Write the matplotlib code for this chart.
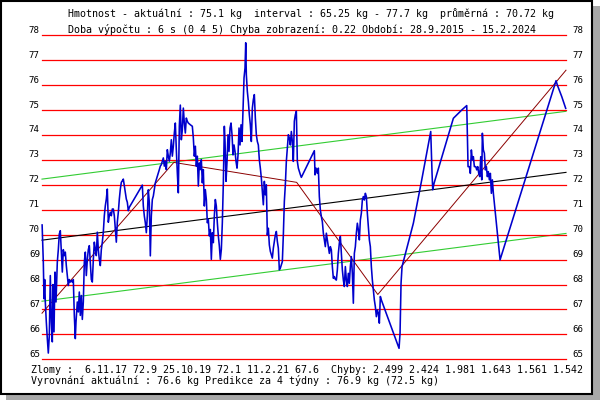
import matplotlib
matplotlib.use("Agg")
import matplotlib.pyplot as plt
from matplotlib.patches import Rectangle

# weight series, x in decimal years (28.9.2015 - 15.2.2024)
dates = [
    2015.742, 2015.761, 2015.772, 2015.783, 2015.793, 2015.809, 2015.825, 2015.841,
    2015.857, 2015.873, 2015.889, 2015.905, 2015.916, 2015.932, 2015.948, 2015.964,
    2015.985, 2016.001, 2016.017, 2016.033, 2016.049, 2016.065, 2016.081, 2016.097,
    2016.113, 2016.129, 2016.145, 2016.161, 2016.177, 2016.193, 2016.209, 2016.225,
    2016.241, 2016.257, 2016.273, 2016.284, 2016.305, 2016.321, 2016.337, 2016.353,
    2016.369, 2016.385, 2016.401, 2016.417, 2016.433, 2016.449, 2016.465, 2016.481,
    2016.497, 2016.513, 2016.529, 2016.545, 2016.561, 2016.577, 2016.593, 2016.609,
    2016.625, 2016.641, 2016.657, 2016.673, 2016.689, 2016.705, 2016.721, 2016.737,
    2016.753, 2016.769, 2016.785, 2016.801, 2016.817, 2016.833, 2016.849, 2016.865,
    2016.881, 2016.897, 2016.913, 2016.929, 2016.945, 2016.961, 2016.977, 2016.993,
    2017.009, 2017.025, 2017.041, 2017.057, 2017.073, 2017.089, 2017.105, 2017.121,
    2017.137,
    2017.345, 2017.361, 2017.377, 2017.393, 2017.409, 2017.425, 2017.441, 2017.457,
    2017.473, 2017.489, 2017.505, 2017.521, 2017.537, 2017.553, 2017.569, 2017.585,
    2017.601, 2017.617, 2017.633, 2017.649, 2017.665, 2017.681, 2017.697, 2017.713,
    2017.729, 2017.745, 2017.761, 2017.777, 2017.793, 2017.809, 2017.825, 2017.841,
    2017.857, 2017.873, 2017.889, 2017.905, 2017.921, 2017.937, 2017.953, 2017.969,
    2017.985, 2018.001, 2018.017, 2018.033, 2018.049, 2018.065, 2018.081, 2018.113,
    2018.145, 2018.161, 2018.177, 2018.193, 2018.209, 2018.225, 2018.241, 2018.257,
    2018.273, 2018.289, 2018.305, 2018.321, 2018.337, 2018.353, 2018.369, 2018.385,
    2018.401, 2018.417, 2018.433, 2018.449, 2018.465, 2018.481, 2018.497, 2018.513,
    2018.529, 2018.545, 2018.561, 2018.577, 2018.593, 2018.609, 2018.625, 2018.641,
    2018.657,
    2018.668, 2018.684, 2018.700, 2018.716, 2018.732, 2018.748, 2018.764, 2018.780,
    2018.796, 2018.812, 2018.828, 2018.844, 2018.860, 2018.876, 2018.892, 2018.908,
    2018.924, 2018.940, 2018.956, 2018.972, 2018.988, 2018.999, 2019.009, 2019.025,
    2019.041, 2019.057, 2019.073, 2019.089, 2019.105, 2019.121, 2019.137, 2019.153,
    2019.169, 2019.185, 2019.201, 2019.217, 2019.233, 2019.249, 2019.265, 2019.281,
    2019.297, 2019.313, 2019.329, 2019.345, 2019.361, 2019.377, 2019.393, 2019.409,
    2019.425, 2019.441, 2019.457, 2019.473, 2019.489, 2019.505, 2019.521, 2019.537,
    2019.553, 2019.569, 2019.585, 2019.601, 2019.617, 2019.633, 2019.649, 2019.665,
    2019.681, 2019.697, 2019.713, 2019.729, 2019.745, 2019.761, 2019.777, 2019.793,
    2019.809, 2019.825, 2019.841, 2019.857, 2019.873, 2019.889, 2020.097,
    2020.108, 2020.124, 2020.145, 2020.161, 2020.177, 2020.193, 2020.209, 2020.225,
    2020.241, 2020.257, 2020.273, 2020.289, 2020.305, 2020.321, 2020.337, 2020.353,
    2020.369, 2020.385, 2020.401, 2020.417, 2020.433, 2020.449, 2020.465, 2020.481,
    2020.497, 2020.513, 2020.529, 2020.545, 2020.561, 2020.577, 2020.593, 2020.609,
    2020.625, 2020.641, 2020.657, 2020.673, 2020.689, 2020.705, 2020.721, 2020.737,
    2020.753, 2020.769, 2020.785, 2020.801, 2020.817, 2020.833, 2020.849, 2020.865,
    2020.881, 2020.897, 2020.913, 2020.929, 2020.945, 2020.961, 2020.977, 2020.993,
    2021.009, 2021.025, 2021.041, 2021.057, 2021.073, 2021.089, 2021.105, 2021.121,
    2021.137, 2021.153, 2021.169, 2021.452, 2021.468, 2021.484, 2021.500, 2021.681,
    2021.815, 2021.959, 2021.980, 2021.991, 2022.012, 2022.321, 2022.374, 2022.454,
    2022.535, 2022.545, 2022.556, 2022.577, 2022.593, 2022.609, 2022.625, 2022.641,
    2022.657, 2022.679, 2022.695, 2022.711, 2022.727, 2022.743, 2022.759, 2022.775,
    2022.785, 2022.801, 2022.817, 2022.833, 2022.849, 2022.865, 2022.881, 2022.897,
    2022.913, 2022.929, 2022.945, 2022.961, 2022.977, 2022.993, 2023.015, 2023.041,
    2023.068, 2023.964, 2023.985, 2024.055, 2024.118,
]
weight = [
    70.39, 68.90, 67.43, 68.20, 67.30, 66.50, 65.83, 65.25,
    65.96, 68.36, 66.50, 65.70, 68.00, 66.10, 68.50, 67.30,
    68.90, 69.40, 70.03, 70.16, 69.30, 68.50, 69.40, 69.16,
    69.30, 68.76, 68.36, 67.96, 68.20, 68.10, 68.16, 68.10,
    68.20, 66.76, 65.83, 66.50, 67.30, 66.90, 67.70, 66.76,
    67.56, 66.60, 67.30, 68.90, 69.30, 68.36, 69.00, 69.40,
    69.56, 68.90, 68.20, 68.10, 69.00, 69.70, 69.40, 69.16,
    70.10, 69.40, 69.00, 68.76, 69.40, 69.70, 70.10, 70.76,
    71.16, 71.43, 71.83, 70.50, 70.76, 70.90, 70.76, 71.03,
    71.03, 70.76, 70.23, 69.70, 70.50, 70.90, 71.43, 71.83,
    72.10, 72.16, 72.23, 71.96, 71.70, 71.43, 71.30, 70.96,
    71.10,
    71.99, 71.15, 70.75, 70.48, 70.08, 70.75, 71.80, 71.28,
    69.15, 70.75, 71.41, 71.55, 71.81, 72.08, 72.21, 72.35,
    72.48, 72.61, 72.75, 72.81, 72.95, 73.08, 72.75, 72.95,
    72.61, 73.41, 73.15, 72.95, 73.28, 73.81, 73.15, 73.55,
    74.08, 74.48, 73.41, 72.48, 71.68, 74.35, 75.20, 73.81,
    74.21, 75.08, 74.48, 74.08, 74.68, 74.55, 74.48, 74.41,
    74.35, 73.88, 73.15, 73.55, 72.75, 73.15, 71.95, 72.88,
    72.61, 73.01, 72.08, 72.61, 71.15, 71.81, 71.41, 70.48,
    70.61, 69.95, 70.21, 69.01, 70.08, 69.68, 70.75, 71.41,
    71.15, 70.48, 69.95, 69.55, 69.01, 69.41, 70.48, 72.08,
    74.35,
    73.74, 72.14, 72.94, 74.01, 73.34, 74.28, 74.48, 74.01,
    73.20, 73.60, 73.34, 72.94, 72.67, 73.20, 74.28, 73.60,
    74.41, 73.74, 74.95, 76.29, 76.69, 77.70, 76.42, 75.75,
    75.35, 74.81, 74.41, 73.74, 75.08, 75.42, 75.62, 74.68,
    74.01, 73.74, 73.60, 73.00, 72.67, 72.27, 71.73, 71.20,
    72.14, 71.60, 72.00, 69.99, 70.26, 69.59, 69.33, 69.19,
    69.06, 69.46, 69.73, 69.99, 70.13, 69.73, 69.46, 68.59,
    68.66, 68.79, 68.92, 69.99, 71.33, 72.00, 72.94, 73.47,
    74.01, 73.88, 73.60, 74.14, 73.74, 72.94, 74.55, 74.81,
    74.95, 72.94, 72.67, 72.54, 72.41, 72.30, 73.37,
    72.40, 72.67, 72.46, 72.67, 71.53, 70.99, 70.73, 70.52,
    70.06, 69.79, 69.52, 70.06, 69.79, 69.52, 69.25, 69.52,
    69.39, 68.72, 68.25, 68.32, 68.21, 68.18, 68.59, 69.25,
    69.66, 69.93, 69.25, 68.59, 68.18, 67.92, 68.72, 68.18,
    67.92, 68.45, 68.05, 68.72, 69.12, 68.45, 67.25, 69.25,
    69.52, 70.06, 70.46, 70.19, 69.79, 70.59, 70.86, 71.39,
    71.53, 71.39, 71.66, 71.53, 70.86, 70.32, 69.79, 69.52,
    68.72, 68.18, 67.78, 67.38, 67.11, 66.71, 66.98, 66.85,
    66.45, 67.52, 67.38, 65.44, 66.04, 68.05, 68.72, 70.46,
    72.20, 74.14, 72.46, 71.80, 72.06, 74.67, 74.80, 75.00,
    75.18, 73.94, 72.73, 72.73, 72.46, 73.40, 73.00, 73.13,
    72.73, 72.73, 72.60, 72.73, 72.46, 72.33, 73.13, 72.20,
    74.07, 73.40, 73.27, 72.60, 72.73, 72.33, 72.53, 72.20,
    72.46, 71.66, 72.20, 71.66, 71.26, 70.86, 70.32, 69.66,
    68.99, 76.18, 76.00, 75.54, 75.07,
]

# piecewise fit with breaks ("Zlomy")
break_dates = [2015.740, 2017.849, 2019.814, 2021.112, 2024.123]
break_weight = [66.85, 72.9, 72.1, 67.6, 76.6]

# linear trend and band
trend_dates = [2015.740, 2024.123]
trend_weight = [69.78, 72.50]
band = 2.45

levels = list(range(65, 79))

header = [
    "Hmotnost - aktuální : 75.1 kg  interval : 65.25 kg - 77.7 kg  průměrná : 70.72 kg",
    "Doba výpočtu : 6 s (0 4 5) Chyba zobrazení: 0.22 Období: 28.9.2015 - 15.2.2024",
]
footer = [
    "Zlomy :  6.11.17 72.9 25.10.19 72.1 11.2.21 67.6  Chyby: 2.499 2.424 1.981 1.643 1.561 1.542",
    "Vyrovnání aktuální : 76.6 kg Predikce za 4 týdny : 76.9 kg (72.5 kg)",
]

mono = "DejaVu Sans Mono"

fig = plt.figure(figsize=(6, 4), dpi=100)
fig.patch.set_facecolor("white")

# shadow + framed panel
fig.patches.append(Rectangle((6 / 600, 0), 594 / 600, 394 / 400, transform=fig.transFigure,
                             facecolor="#a8a8a8", edgecolor="none", zorder=-2))
fig.patches.append(Rectangle((1 / 600, 6 / 400), 591 / 600, 393 / 400, transform=fig.transFigure,
                             facecolor="white", edgecolor="black", linewidth=1.5, zorder=-1))

ax = fig.add_axes([42 / 600, 40.7 / 400, 524 / 600, 324 / 400])
ax.set_zorder(2)
ax.set_axis_off()
ax.patch.set_alpha(0)
ax.set_xlim(trend_dates[0], trend_dates[1])
ax.set_ylim(65, 78)

up = [w + band for w in trend_weight]
lo = [w - band for w in trend_weight]
ax.plot(trend_dates, up, color="#33cc33", lw=0.8, zorder=2, clip_on=False)
ax.plot(trend_dates, lo, color="#33cc33", lw=0.8, zorder=2, clip_on=False)

for lv in levels:
    ax.axhline(lv, color="#ff0000", lw=0.9, zorder=3, clip_on=False)
    ax.text(-0.004, lv + 0.1, str(lv), transform=ax.get_yaxis_transform(),
            ha="right", va="baseline", fontsize=6.6, family=mono)
    ax.text(1.0115, lv + 0.1, str(lv), transform=ax.get_yaxis_transform(),
            ha="left", va="baseline", fontsize=6.6, family=mono)

ax.plot(trend_dates, trend_weight, color="black", lw=0.8, zorder=4, clip_on=False)
ax.plot(break_dates, break_weight, color="#8b0000", lw=0.7, zorder=5, clip_on=False)
ax.plot(dates, weight, color="#0000cc", lw=1.15, zorder=6, clip_on=False)

fig.text(68 / 600, 1 - 16.7 / 400, header[0], fontsize=7.2, family=mono, va="baseline")
fig.text(68 / 600, 1 - 32.7 / 400, header[1], fontsize=7.2, family=mono, va="baseline")
fig.text(31 / 600, 1 - 372.7 / 400, footer[0], fontsize=7.2, family=mono, va="baseline")
fig.text(31 / 600, 1 - 384.3 / 400, footer[1], fontsize=7.2, family=mono, va="baseline")

fig.savefig("out.png", dpi=100)
